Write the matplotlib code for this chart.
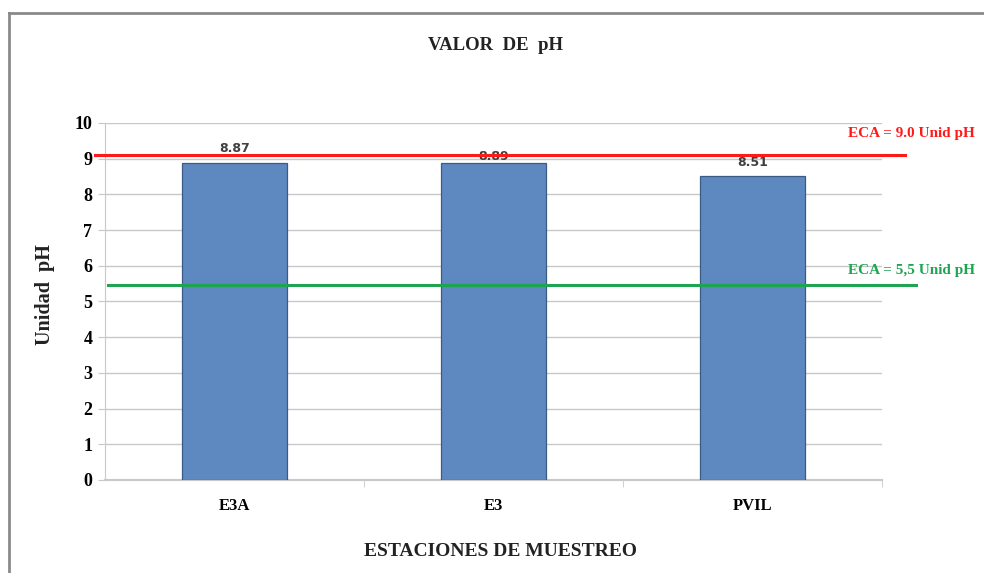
#!/usr/bin/env python3
import matplotlib
matplotlib.use("Agg")
import matplotlib.pyplot as plt
from matplotlib.lines import Line2D

STATIONS = ["E3A", "E3", "PVIL"]
PH_VALUES = [8.87, 8.89, 8.51]
PH_LABELS = ["8.87", "8.89", "8.51"]
ECA_MAX = 9.1
ECA_MIN = 5.45
ECA_MAX_TEXT = "ECA = 9.0 Unid pH"
ECA_MIN_TEXT = "ECA = 5,5 Unid pH"

BAR_COLOR = "#5d88c0"
BAR_EDGE = "#3b5a85"
RED = "#ff1a1a"
GREEN = "#1fa552"
GRID = "#c8c8c8"
LABEL_PAD = [0.22, -0.02, 0.2]  # label offsets above bars, as placed in the source
SERIF = {"family": "Liberation Serif", "weight": "bold"}


def main():
    fig = plt.figure(figsize=(9.84, 5.73), dpi=100)
    ax = fig.add_axes([105 / 984, 1 - 480 / 573, 777 / 984, 357 / 573])

    # frame of the chart area (only top and left visible in the crop)
    fig.add_artist(Line2D([9 / 984, 9 / 984], [0, 1 - 13 / 573],
                          transform=fig.transFigure, color="#8a8a8a", lw=2))
    fig.add_artist(Line2D([9 / 984, 1], [1 - 13 / 573, 1 - 13 / 573],
                          transform=fig.transFigure, color="#8a8a8a", lw=2))

    x = range(len(STATIONS))
    ax.bar(x, PH_VALUES, width=0.405, color=BAR_COLOR, edgecolor=BAR_EDGE,
           linewidth=0.9, zorder=3)
    for xi, v, lab, pad in zip(x, PH_VALUES, PH_LABELS, LABEL_PAD):
        ax.text(xi, v + pad, lab, ha="center", va="bottom", fontsize=9,
                color="#404040", fontweight="bold", zorder=2)

    ax.set_xlim(-0.5, 2.5)
    ax.set_ylim(0, 10)
    ax.set_yticks(range(0, 11))
    ax.set_xticks(list(x))
    ax.set_xticklabels(STATIONS, fontdict=dict(SERIF, size=12))
    for lab in ax.get_yticklabels():
        lab.set(**SERIF, size=13)
    ax.set_xticks([0.5, 1.5, 2.5], minor=True)
    ax.tick_params(axis="x", which="major", length=0, pad=13)
    ax.tick_params(axis="x", which="minor", length=5, color=GRID, direction="out")
    ax.tick_params(axis="y", length=5, color=GRID, pad=4)

    ax.grid(axis="y", color=GRID, linewidth=1, zorder=0)
    for s in ["top", "right"]:
        ax.spines[s].set_visible(False)
    ax.spines["left"].set_color(GRID)
    ax.spines["bottom"].set_color(GRID)
    ax.spines["bottom"].set_linewidth(1.5)

    # ECA limit lines reach past the plot area
    ax.plot([-0.54, 2.59], [ECA_MAX, ECA_MAX], color=RED, lw=2.2,
            clip_on=False, zorder=4)
    ax.plot([-0.49, 2.63], [ECA_MIN, ECA_MIN], color=GREEN, lw=2.2,
            clip_on=False, zorder=4)
    fig.text(975 / 984, 1 - 133 / 573, ECA_MAX_TEXT, ha="right", va="center",
             color=RED, fontsize=11, **SERIF)
    fig.text(975 / 984, 1 - 271 / 573, ECA_MIN_TEXT, ha="right", va="center",
             color=GREEN, fontsize=11, **SERIF)

    fig.text(495 / 984, 1 - 46 / 573, "VALOR  DE  pH", ha="center",
             va="center", fontsize=13.5, color="#222222", **SERIF)
    fig.text(500 / 984, 1 - 552 / 573, "ESTACIONES DE MUESTREO", ha="center",
             va="center", fontsize=14, color="#222222", **SERIF)
    fig.text(45 / 984, 1 - 295 / 573, "Unidad  pH", ha="center", va="center",
             rotation=90, fontsize=14.5, color="#222222", **SERIF)

    fig.savefig("out.png", dpi=100)
    plt.close(fig)


if __name__ == "__main__":
    main()
